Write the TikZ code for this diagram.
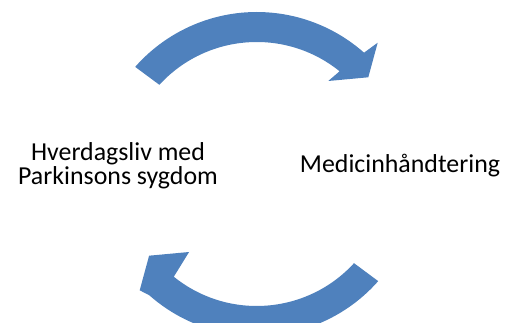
\documentclass[tikz,border=0pt]{standalone}
\usepackage{fontspec}
\setmainfont{Carlito}
\usetikzlibrary{calc}
\definecolor{arrowblue}{RGB}{79,129,189}
\begin{document}
\begin{tikzpicture}[x=0.75pt,y=-0.75pt,
  lbl/.style={font=\fontsize{19.4}{18}\selectfont, align=center, inner sep=0pt, text=black},
  blockarrow/.style={fill=arrowblue, draw=none}]
\useasboundingbox (0,0) rectangle (507,323);
\coordinate (c) at (256.7,174);
\def\arrowshape{%
  ($(c)+(-138.6:162)$) arc[start angle=-138.6, end angle=-48.5, radius=162]
  -- (377.7,42.7) -- (368.3,77.3) -- (328.3,81)
  -- ($(c)+(-51.1:132)$) arc[start angle=-51.1, end angle=-137.5, radius=132]
  -- cycle}
\fill[blockarrow] \arrowshape;
\begin{scope}[rotate around={180:(258.7,166.5)}]
\fill[blockarrow] \arrowshape;
\end{scope}
\node[lbl, anchor=base] (left) at (118,185) {Hverdagsliv med\\Parkinsons sygdom};
\node[lbl, anchor=base] (right) at (400,173) {Medicinhåndtering};
\end{tikzpicture}
\end{document}
